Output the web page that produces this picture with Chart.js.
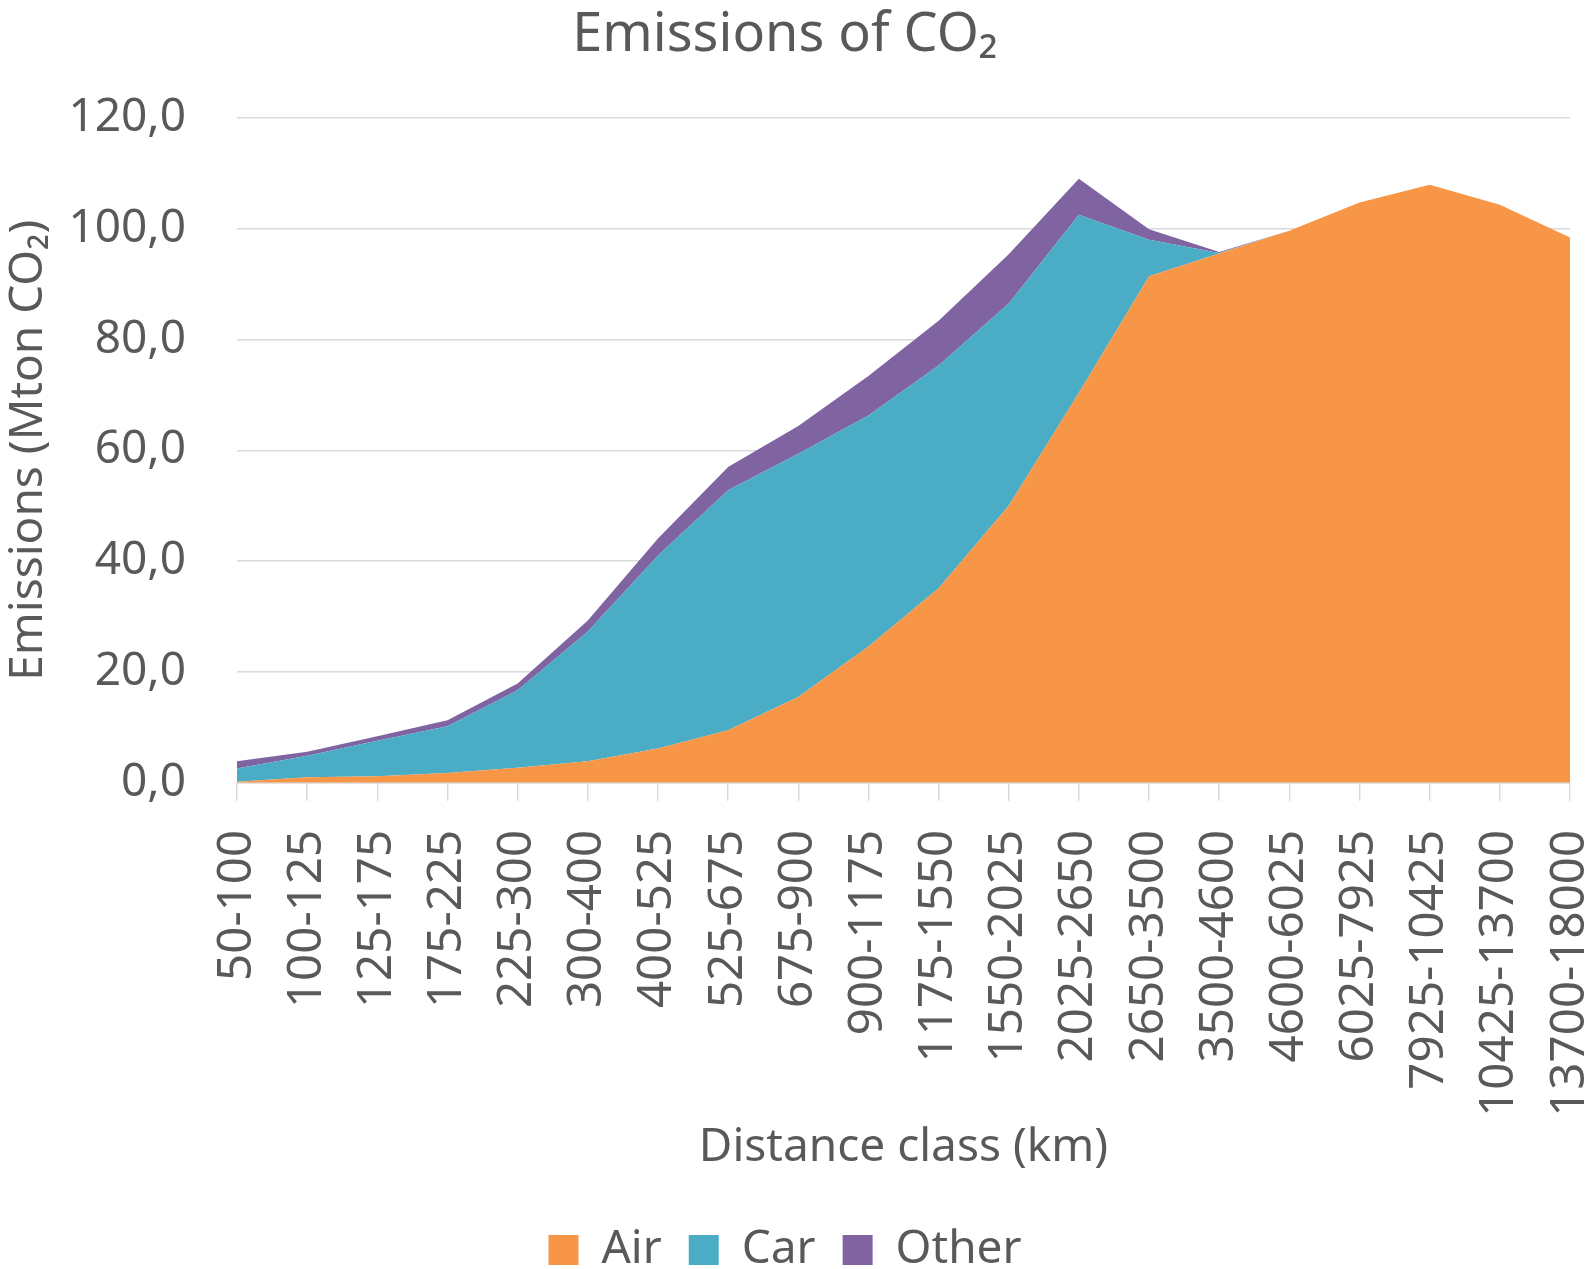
<!DOCTYPE html>
<html>
<head>
<meta charset="utf-8">
<title>Emissions of CO₂</title>
<script src="https://cdn.jsdelivr.net/npm/chart.js@4.4.1/dist/chart.umd.min.js"></script>
<style>
  html, body { margin: 0; padding: 0; background: #ffffff; }
  #wrap { width: 1595px; height: 1269px; position: relative; }
</style>
</head>
<body>
<div id="wrap"><canvas id="chart" width="1595" height="1269"></canvas></div>
<script>
// Distance classes (km)
const categories = ['50-100', '100-125', '125-175', '175-225', '225-300', '300-400', '400-525',
  '525-675', '675-900', '900-1175', '1175-1550', '1550-2025', '2025-2650', '2650-3500',
  '3500-4600', '4600-6025', '6025-7925', '7925-10425', '10425-13700', '13700-18000'];

// Emissions per mode (Mton CO2), stacked
const airValues = [0.2, 1.0, 1.2, 1.75, 2.7, 3.9, 6.2, 9.5, 15.5, 24.6, 35.1, 50.0, 70.4, 91.4,
  95.5, 99.6, 104.7, 107.9, 104.3, 98.4];
const carValues = [2.4, 3.9, 6.4, 8.45, 14.0, 23.4, 34.8, 43.3, 43.9, 41.7, 40.2, 36.5, 32.1, 6.6,
  0.1, 0, 0, 0, 0, 0];
const otherValues = [1.3, 0.7, 0.8, 1.1, 1.2, 2.0, 3.1, 4.2, 5.0, 7.1, 8.1, 8.9, 6.5, 1.9,
  0.2, 0, 0, 0, 0, 0];

const seriesNames = ['Air', 'Car', 'Other'];
const seriesColors = ['#F79646', '#4BACC6', '#8064A2'];

// y axis range and step
const yMin = 0, yMax = 120, yStep = 20;

const textColor = '#595959';
const gridColor = '#d9d9d9';
const family = "'Noto Sans', 'Open Sans', sans-serif";

// fixed width of the left margin (axis title + tick labels)
const yAxisWidth = 237;

Chart.defaults.font.family = family;
Chart.defaults.color = textColor;

const seriesValues = [airValues, carValues, otherValues];
const datasets = seriesNames.map((name, i) => ({
  label: name,
  data: seriesValues[i],
  backgroundColor: seriesColors[i],
  borderColor: seriesColors[i],
  borderWidth: 0,
  pointRadius: 0,
  pointHoverRadius: 0,
  tension: 0,
  fill: i === 0 ? 'origin' : '-1'
}));

new Chart(document.getElementById('chart'), {
  type: 'line',
  data: { labels: categories, datasets },
  options: {
    responsive: false,
    animation: false,
    events: [],
    layout: { padding: { left: 0, right: 25, top: 0, bottom: -14 } },
    plugins: {
      title: {
        display: true,
        text: 'Emissions of CO₂',
        color: textColor,
        font: { size: 54, weight: 'normal', family },
        padding: { top: 3, bottom: 50 }
      },
      legend: {
        display: true,
        position: 'bottom',
        labels: {
          boxWidth: 30,
          boxHeight: 30,
          padding: 27,
          color: textColor,
          font: { size: 46, family }
        }
      },
      tooltip: { enabled: false }
    },
    scales: {
      x: {
        offset: false,
        afterFit: (scale) => { scale.paddingLeft = 0; scale.paddingRight = 0; },
        grid: {
          display: true,
          drawOnChartArea: false,
          drawTicks: true,
          tickLength: 18,
          color: gridColor,
          lineWidth: 1.5
        },
        border: { display: true, color: gridColor, width: 1.5 },
        ticks: {
          autoSkip: false,
          maxRotation: 90,
          minRotation: 90,
          padding: 29,
          color: textColor,
          font: { size: 47.5, family }
        },
        title: {
          display: true,
          text: 'Distance class (km)',
          color: textColor,
          font: { size: 46, family },
          padding: { top: -26, bottom: 25 }
        }
      },
      y: {
        stacked: true,
        min: yMin,
        max: yMax,
        afterFit: (scale) => { scale.width = yAxisWidth; },
        grid: {
          color: gridColor,
          lineWidth: 1.5,
          drawTicks: false
        },
        border: { display: false },
        ticks: {
          stepSize: yStep,
          padding: 51,
          color: textColor,
          font: { size: 46, family },
          callback: (v) => Number(v).toFixed(1).replace('.', ',')
        },
        title: {
          display: true,
          text: 'Emissions (Mton CO₂)',
          color: textColor,
          font: { size: 46, family },
          padding: { top: 1, bottom: 6 }
        }
      }
    }
  }
});
</script>
</body>
</html>
